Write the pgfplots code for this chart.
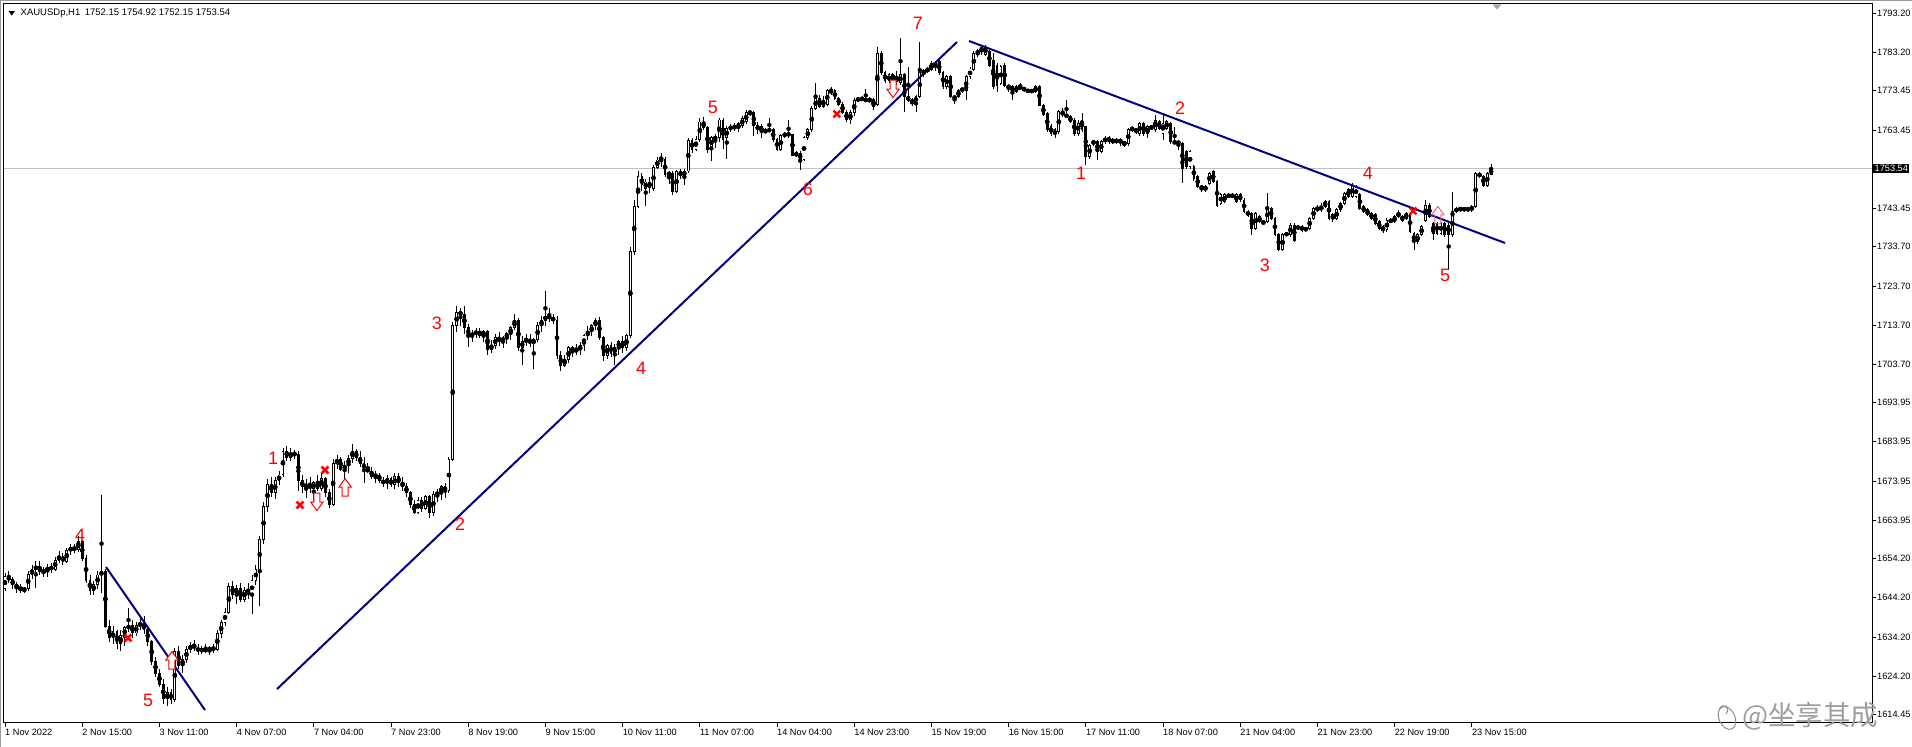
\documentclass[border=0pt]{standalone}
\usepackage{pgfplots}
\pgfplotsset{compat=1.18}
\usepackage{pgfplotstable}
\usepackage{fontspec}
\setmainfont{Liberation Sans}
\newfontfamily\cjk{Noto Sans CJK SC}

\definecolor{trend}{RGB}{0,0,128}
\definecolor{sigred}{RGB}{255,0,0}
\definecolor{sigpink}{RGB}{236,96,140}
\definecolor{bidline}{RGB}{192,192,192}

% hollow block arrows used for the entry signals
\pgfdeclareplotmark{arrowup}{%
  \pgfpathmoveto{\pgfqpoint{-3pt}{-9pt}}%
  \pgfpathlineto{\pgfqpoint{-3pt}{0pt}}%
  \pgfpathlineto{\pgfqpoint{-6.2pt}{0pt}}%
  \pgfpathlineto{\pgfqpoint{0pt}{8.5pt}}%
  \pgfpathlineto{\pgfqpoint{6.2pt}{0pt}}%
  \pgfpathlineto{\pgfqpoint{3pt}{0pt}}%
  \pgfpathlineto{\pgfqpoint{3pt}{-9pt}}%
  \pgfpathclose
  \pgfusepathqfillstroke}
\pgfdeclareplotmark{arrowdown}{%
  \pgfpathmoveto{\pgfqpoint{-3pt}{9pt}}%
  \pgfpathlineto{\pgfqpoint{-3pt}{0pt}}%
  \pgfpathlineto{\pgfqpoint{-6.2pt}{0pt}}%
  \pgfpathlineto{\pgfqpoint{0pt}{-8.5pt}}%
  \pgfpathlineto{\pgfqpoint{6.2pt}{0pt}}%
  \pgfpathlineto{\pgfqpoint{3pt}{0pt}}%
  \pgfpathlineto{\pgfqpoint{3pt}{9pt}}%
  \pgfpathclose
  \pgfusepathqfillstroke}
\pgfdeclareplotmark{arrowupline}{%
  \pgfpathmoveto{\pgfqpoint{-3pt}{-9pt}}%
  \pgfpathlineto{\pgfqpoint{-3pt}{0pt}}%
  \pgfpathlineto{\pgfqpoint{-6.2pt}{0pt}}%
  \pgfpathlineto{\pgfqpoint{0pt}{8.5pt}}%
  \pgfpathlineto{\pgfqpoint{6.2pt}{0pt}}%
  \pgfpathlineto{\pgfqpoint{3pt}{0pt}}%
  \pgfpathlineto{\pgfqpoint{3pt}{-9pt}}%
  \pgfpathclose
  \pgfusepathqstroke}

% XAUUSD, H1 bars: index, open, high, low, close
\pgfplotstableread{
i o h l c
0 1646.5 1650.5 1645.8 1649.5
1 1649.5 1651.0 1648.0 1648.8
2 1648.8 1649.5 1646.5 1647.5
3 1647.5 1648.2 1645.5 1646.8
4 1646.8 1647.8 1645.4 1646.2
5 1646.2 1647.0 1645.3 1646.5
6 1646.5 1651.0 1646.0 1650.2
7 1650.2 1652.5 1649.0 1651.5
8 1651.5 1653.5 1646.8 1652.2
9 1652.2 1653.5 1650.0 1650.8
10 1650.8 1652.0 1649.5 1651.0
11 1651.0 1652.8 1649.5 1652.0
12 1652.0 1653.0 1650.5 1651.5
13 1651.5 1654.5 1651.0 1653.8
14 1653.8 1656.0 1653.0 1654.8
15 1654.8 1655.5 1652.5 1653.5
16 1653.5 1657.0 1653.0 1656.2
17 1656.2 1658.0 1655.0 1657.0
18 1657.0 1658.0 1655.5 1656.5
19 1656.5 1660.0 1655.8 1658.5
20 1658.5 1659.0 1653.5 1654.2
21 1654.2 1655.0 1648.0 1648.5
22 1648.5 1650.0 1645.0 1646.0
23 1646.0 1648.5 1644.8 1647.5
24 1647.5 1651.0 1646.5 1650.0
25 1650.0 1670.5 1645.5 1650.8
26 1650.8 1651.5 1636.5 1636.8
27 1636.8 1638.5 1633.0 1634.0
28 1634.0 1637.0 1632.5 1635.5
29 1635.5 1636.0 1631.0 1632.5
30 1632.5 1636.0 1630.5 1634.5
31 1634.5 1637.0 1632.0 1636.5
32 1636.5 1641.5 1635.5 1637.0
33 1637.0 1638.5 1634.0 1635.2
34 1635.2 1638.0 1634.5 1637.2
35 1637.2 1639.0 1636.0 1637.5
36 1637.5 1639.5 1635.0 1636.0
37 1636.0 1637.0 1632.0 1633.0
38 1633.0 1633.5 1627.0 1628.0
39 1628.0 1629.0 1624.0 1625.0
40 1625.0 1626.0 1621.5 1622.0
41 1622.0 1623.5 1617.0 1618.5
42 1618.5 1621.5 1616.5 1620.0
43 1620.0 1621.0 1617.0 1618.2
44 1618.2 1631.5 1617.5 1630.5
45 1630.5 1632.0 1626.0 1627.0
46 1627.0 1629.5 1625.0 1628.5
47 1628.5 1632.0 1627.5 1631.0
48 1631.0 1633.0 1630.0 1632.0
49 1632.0 1633.5 1630.5 1631.5
50 1631.5 1632.5 1629.5 1630.5
51 1630.5 1632.0 1629.8 1631.2
52 1631.2 1632.5 1630.0 1630.5
53 1630.5 1632.0 1629.5 1631.5
54 1631.5 1632.5 1630.0 1631.0
55 1631.0 1636.0 1630.5 1635.0
56 1635.0 1638.5 1634.0 1637.8
57 1637.8 1641.5 1637.0 1640.5
58 1640.5 1648.0 1640.0 1647.0
59 1647.0 1648.5 1644.0 1645.0
60 1645.0 1647.5 1642.5 1646.5
61 1646.5 1648.0 1643.0 1643.8
62 1643.8 1647.0 1643.0 1646.0
63 1646.0 1648.0 1644.0 1645.0
64 1645.0 1650.0 1640.0 1648.5
65 1648.5 1652.5 1647.5 1651.5
66 1651.5 1660.0 1642.0 1659.0
67 1659.0 1668.5 1658.0 1667.5
68 1667.5 1674.5 1666.0 1673.0
69 1673.0 1675.0 1670.0 1671.0
70 1671.0 1675.0 1669.5 1674.0
71 1674.0 1676.5 1673.0 1675.5
72 1675.5 1682.5 1675.0 1681.5
73 1681.5 1683.0 1679.0 1680.0
74 1680.0 1682.5 1679.0 1681.0
75 1681.0 1682.0 1679.5 1680.8
76 1680.8 1681.5 1671.5 1674.0
77 1674.0 1675.5 1671.0 1672.5
78 1672.5 1674.5 1669.5 1673.0
79 1673.0 1675.0 1671.0 1672.0
80 1672.0 1674.0 1668.5 1673.5
81 1673.5 1675.5 1671.5 1672.0
82 1672.0 1676.0 1671.5 1674.5
83 1674.5 1675.0 1670.0 1671.0
84 1671.0 1672.0 1667.0 1668.0
85 1668.0 1679.5 1667.5 1678.5
86 1678.5 1680.5 1677.0 1679.5
87 1679.5 1680.0 1676.5 1677.0
88 1677.0 1679.0 1674.5 1678.0
89 1678.0 1680.5 1676.0 1679.8
90 1679.8 1683.5 1678.5 1681.5
91 1681.5 1682.0 1679.0 1680.0
92 1680.0 1681.5 1677.5 1678.5
93 1678.5 1680.0 1673.5 1677.0
94 1677.0 1678.5 1676.0 1676.5
95 1676.5 1677.5 1674.5 1675.2
96 1675.2 1676.5 1673.5 1675.5
97 1675.5 1676.0 1673.5 1674.0
98 1674.0 1675.0 1672.5 1673.5
99 1673.5 1675.5 1672.0 1674.5
100 1674.5 1675.0 1672.5 1673.0
101 1673.0 1676.0 1672.0 1675.0
102 1675.0 1676.0 1672.5 1673.5
103 1673.5 1675.0 1671.5 1672.5
104 1672.5 1673.5 1670.0 1671.0
105 1671.0 1671.5 1667.0 1668.0
106 1668.0 1669.0 1665.5 1666.0
107 1666.0 1670.0 1665.5 1669.0
108 1669.0 1670.0 1666.0 1667.0
109 1667.0 1670.5 1666.5 1670.0
110 1670.0 1670.5 1664.5 1666.0
111 1666.0 1671.5 1665.0 1670.5
112 1670.5 1672.0 1668.5 1671.0
113 1671.0 1673.0 1669.0 1672.5
114 1672.5 1673.5 1669.5 1671.5
115 1671.5 1680.0 1671.0 1679.5
116 1679.5 1714.5 1679.0 1713.5
117 1713.5 1718.5 1712.0 1717.0
118 1717.0 1718.0 1713.5 1716.5
119 1716.5 1718.5 1711.5 1713.0
120 1713.0 1714.0 1708.0 1711.0
121 1711.0 1712.5 1709.5 1711.5
122 1711.5 1713.0 1710.5 1712.0
123 1712.0 1713.0 1710.5 1711.0
124 1711.0 1712.5 1709.5 1712.0
125 1712.0 1712.5 1706.0 1707.5
126 1707.5 1710.0 1706.5 1708.5
127 1708.5 1711.5 1707.5 1710.5
128 1710.5 1712.0 1708.5 1709.5
129 1709.5 1711.0 1708.0 1710.5
130 1710.5 1712.0 1709.0 1711.5
131 1711.5 1713.5 1710.0 1713.0
132 1713.0 1716.5 1712.5 1715.0
133 1715.0 1715.5 1707.0 1708.0
134 1708.0 1711.0 1703.5 1709.5
135 1709.5 1711.5 1708.5 1710.0
136 1710.0 1711.5 1708.0 1709.0
137 1709.0 1710.5 1702.5 1710.0
138 1710.0 1714.5 1709.5 1713.5
139 1713.5 1716.0 1712.0 1715.0
140 1715.0 1722.5 1713.5 1716.0
141 1716.0 1718.0 1714.5 1715.5
142 1715.5 1716.5 1714.0 1715.0
143 1715.0 1716.0 1705.0 1706.0
144 1706.0 1707.0 1702.0 1703.5
145 1703.5 1706.0 1703.0 1705.0
146 1705.0 1708.5 1704.0 1708.0
147 1708.0 1708.5 1705.5 1707.0
148 1707.0 1709.0 1706.0 1707.5
149 1707.5 1709.5 1706.0 1708.5
150 1708.5 1711.5 1707.0 1711.0
151 1711.0 1713.5 1710.0 1712.0
152 1712.0 1714.0 1711.0 1713.5
153 1713.5 1715.5 1712.5 1715.0
154 1715.0 1715.8 1710.0 1710.5
155 1710.5 1711.0 1704.5 1706.0
156 1706.0 1709.0 1705.0 1708.5
157 1708.5 1709.5 1705.5 1706.5
158 1706.5 1709.0 1703.5 1708.0
159 1708.0 1710.0 1706.0 1709.5
160 1709.5 1711.0 1706.5 1708.0
161 1708.0 1711.5 1707.0 1711.0
162 1711.0 1733.5 1710.5 1732.5
163 1732.5 1745.5 1731.5 1744.0
164 1744.0 1753.0 1743.5 1751.5
165 1751.5 1752.5 1748.0 1749.5
166 1748.5 1751.0 1744.0 1750.2
167 1750.2 1751.5 1747.5 1748.8
168 1748.5 1754.5 1748.0 1754.0
169 1754.0 1756.5 1753.5 1755.8
170 1755.8 1757.5 1754.0 1756.5
171 1756.0 1756.5 1751.5 1752.0
172 1752.0 1753.0 1749.8 1752.5
173 1752.5 1753.0 1747.0 1747.8
174 1747.8 1753.3 1747.3 1752.8
175 1752.8 1753.5 1751.0 1751.8
176 1751.8 1753.5 1749.5 1753.0
177 1753.0 1761.5 1752.5 1760.8
178 1760.8 1761.5 1757.5 1758.5
179 1758.5 1762.0 1758.0 1761.0
180 1761.0 1766.5 1760.5 1765.5
181 1765.5 1766.8 1763.5 1764.0
182 1764.0 1764.5 1757.5 1758.5
183 1759.0 1762.0 1755.5 1761.5
184 1761.0 1762.5 1759.0 1761.8
185 1761.5 1766.5 1760.5 1766.0
186 1766.0 1766.5 1758.5 1761.0
187 1761.5 1764.5 1756.0 1763.8
188 1763.8 1765.0 1763.0 1764.3
189 1764.3 1765.2 1763.2 1764.0
190 1764.0 1765.5 1763.0 1765.0
191 1764.5 1767.0 1764.0 1766.5
192 1765.5 1768.5 1765.0 1767.8
193 1767.8 1768.5 1767.0 1768.0
194 1768.0 1768.3 1762.0 1764.5
195 1764.5 1765.5 1762.5 1763.5
196 1764.3 1765.0 1761.5 1763.0
197 1763.0 1764.0 1762.5 1763.3
198 1763.3 1766.5 1763.0 1763.5
199 1763.5 1764.0 1760.5 1761.0
200 1761.0 1761.5 1758.0 1758.5
201 1758.5 1762.5 1758.0 1762.0
202 1762.0 1763.0 1761.5 1762.5
203 1762.5 1766.0 1761.5 1762.2
204 1762.2 1762.5 1756.8 1757.0
205 1757.0 1758.0 1756.5 1757.5
206 1757.5 1758.0 1753.3 1756.0
207 1756.0 1762.0 1755.5 1761.5
208 1761.5 1764.0 1761.0 1763.5
209 1763.5 1769.5 1763.0 1769.0
210 1769.0 1775.5 1768.5 1771.5
211 1771.5 1772.5 1769.0 1769.5
212 1769.5 1772.0 1769.0 1771.0
213 1770.0 1774.0 1769.5 1773.5
214 1773.5 1774.5 1772.5 1773.0
215 1773.5 1774.0 1771.0 1771.5
216 1771.5 1772.0 1769.5 1770.0
217 1770.0 1770.5 1767.5 1768.0
218 1768.0 1768.5 1765.5 1766.0
219 1766.0 1768.5 1765.0 1768.0
220 1768.0 1771.5 1767.0 1771.0
221 1771.0 1772.0 1770.5 1771.5
222 1771.5 1772.0 1770.8 1771.2
223 1771.2 1774.0 1770.5 1771.0
224 1771.0 1771.8 1770.3 1771.3
225 1771.3 1771.5 1768.5 1769.5
226 1770.0 1784.5 1769.5 1783.0
227 1783.0 1783.5 1777.5 1778.0
228 1778.0 1778.5 1775.5 1776.0
229 1776.0 1778.0 1775.5 1777.5
230 1777.5 1778.0 1775.0 1776.5
231 1776.5 1778.5 1775.0 1776.0
232 1775.5 1787.0 1775.0 1777.5
233 1777.5 1778.0 1768.0 1772.0
234 1772.0 1779.5 1770.5 1771.0
235 1771.0 1771.5 1769.5 1770.5
236 1770.5 1772.5 1768.0 1772.0
237 1772.0 1786.0 1771.5 1778.0
238 1778.0 1779.0 1777.0 1778.5
239 1778.5 1779.5 1778.0 1779.0
240 1778.8 1781.0 1778.5 1780.5
241 1780.5 1781.0 1778.5 1780.0
242 1781.0 1781.5 1777.5 1778.0
243 1778.0 1778.5 1774.0 1774.5
244 1774.5 1777.5 1774.0 1777.0
245 1777.0 1777.5 1771.5 1772.0
246 1772.0 1772.5 1770.0 1771.5
247 1772.0 1774.0 1771.5 1773.5
248 1773.5 1774.5 1773.0 1774.0
249 1773.5 1777.5 1771.0 1777.0
250 1777.0 1779.5 1776.5 1779.0
251 1779.0 1783.5 1778.5 1783.0
252 1783.0 1784.0 1782.0 1783.5
253 1783.5 1785.0 1782.5 1784.5
254 1782.8 1785.2 1782.3 1784.6
255 1783.4 1784.0 1779.5 1780.0
256 1781.3 1783.0 1774.0 1774.5
257 1780.0 1780.5 1773.2 1774.9
258 1775.4 1780.0 1775.0 1779.6
259 1780.0 1780.5 1774.5 1774.9
260 1774.9 1775.2 1773.2 1774.1
261 1774.5 1774.9 1771.1 1773.2
262 1773.2 1775.0 1772.8 1774.5
263 1774.5 1775.5 1773.8 1774.1
264 1774.1 1774.5 1773.2 1773.7
265 1773.7 1774.0 1772.8 1773.2
266 1773.2 1774.0 1772.8 1773.6
267 1773.2 1775.0 1772.8 1774.5
268 1774.5 1775.0 1769.5 1769.8
269 1769.8 1770.0 1767.0 1767.3
270 1767.7 1768.0 1763.0 1763.5
271 1764.3 1765.0 1762.0 1762.6
272 1763.5 1764.0 1761.5 1762.2
273 1763.0 1768.5 1762.5 1768.1
274 1768.1 1769.0 1766.8 1767.3
275 1767.3 1771.1 1766.5 1766.9
276 1766.9 1767.3 1765.2 1765.6
277 1766.0 1766.5 1762.0 1762.6
278 1762.6 1766.0 1762.0 1765.2
279 1766.0 1767.7 1763.0 1763.5
280 1764.3 1764.5 1754.5 1756.7
281 1756.7 1760.0 1756.0 1759.6
282 1760.5 1761.0 1759.5 1760.1
283 1760.5 1761.0 1755.8 1757.9
284 1757.9 1761.0 1757.5 1760.5
285 1760.5 1762.0 1760.0 1761.3
286 1761.3 1761.8 1760.0 1760.9
287 1760.9 1761.3 1759.8 1760.5
288 1760.5 1761.3 1760.0 1760.9
289 1760.9 1761.5 1759.5 1760.3
290 1760.3 1760.5 1759.2 1759.9
291 1760.1 1764.0 1759.5 1763.5
292 1763.5 1764.5 1763.0 1763.9
293 1763.5 1764.0 1762.5 1763.2
294 1762.6 1765.6 1762.0 1765.2
295 1765.2 1765.5 1762.0 1762.6
296 1762.6 1764.8 1761.5 1764.3
297 1764.3 1764.6 1763.5 1764.0
298 1763.5 1767.3 1763.0 1766.0
299 1765.6 1766.0 1763.5 1763.9
300 1762.6 1767.7 1760.9 1765.2
301 1763.9 1766.0 1763.5 1765.6
302 1765.2 1765.6 1760.0 1760.5
303 1760.5 1764.3 1759.6 1760.1
304 1760.5 1761.0 1758.4 1760.0
305 1760.1 1760.5 1749.9 1753.7
306 1757.9 1758.4 1753.5 1754.1
307 1754.1 1758.4 1753.5 1757.9
308 1754.1 1754.5 1750.5 1751.1
309 1751.6 1752.0 1748.6 1749.0
310 1749.0 1749.4 1747.7 1748.6
311 1749.0 1749.4 1747.7 1748.2
312 1749.9 1752.8 1749.5 1752.4
313 1752.8 1753.3 1749.9 1750.3
314 1750.3 1750.7 1743.9 1744.3
315 1744.8 1747.3 1744.3 1746.9
316 1745.2 1747.3 1744.8 1746.9
317 1746.9 1747.3 1746.0 1746.5
318 1746.5 1747.3 1746.0 1746.9
319 1745.2 1747.3 1744.8 1746.9
320 1746.9 1747.3 1745.2 1745.6
321 1745.6 1746.0 1742.2 1742.6
322 1742.6 1743.0 1741.4 1741.8
323 1742.2 1742.6 1736.7 1738.4
324 1738.4 1742.6 1738.0 1742.2
325 1741.4 1741.8 1739.7 1740.1
326 1740.1 1740.5 1739.2 1739.7
327 1740.1 1747.3 1739.7 1743.5
328 1743.5 1743.9 1740.5 1740.9
329 1740.9 1741.3 1736.3 1736.7
330 1736.7 1737.1 1732.5 1732.9
331 1732.9 1737.1 1732.5 1736.7
332 1736.7 1737.5 1736.3 1737.1
333 1736.7 1739.7 1736.3 1739.2
334 1739.2 1739.7 1735.0 1735.4
335 1738.8 1739.2 1738.0 1738.4
336 1738.8 1739.2 1737.5 1738.0
337 1738.0 1738.8 1737.5 1738.4
338 1738.4 1741.3 1738.0 1740.9
339 1740.9 1743.9 1740.5 1743.5
340 1743.5 1744.3 1742.6 1743.1
341 1743.1 1744.8 1742.6 1743.9
342 1743.9 1745.6 1743.5 1745.2
343 1745.2 1745.6 1740.5 1740.9
344 1741.8 1742.2 1740.1 1740.9
345 1740.9 1743.5 1740.5 1743.1
346 1743.1 1745.2 1742.6 1744.8
347 1744.8 1747.7 1744.3 1747.3
348 1748.2 1748.6 1746.0 1746.5
349 1746.5 1749.9 1746.0 1749.4
350 1746.5 1749.4 1746.0 1749.0
351 1746.9 1747.3 1743.1 1743.5
352 1743.9 1744.3 1742.2 1742.6
353 1743.1 1743.5 1741.4 1741.8
354 1742.2 1742.6 1740.5 1740.9
355 1741.8 1742.2 1739.2 1739.7
356 1740.1 1740.5 1738.0 1738.4
357 1738.8 1739.2 1737.1 1738.0
358 1738.0 1740.9 1737.5 1740.5
359 1740.5 1740.9 1739.7 1740.1
360 1740.1 1741.8 1739.7 1741.4
361 1741.4 1743.1 1741.0 1742.2
362 1741.4 1741.8 1740.1 1740.5
363 1740.9 1742.6 1740.5 1742.2
364 1742.2 1742.6 1737.1 1737.5
365 1737.1 1737.5 1732.9 1735.0
366 1735.0 1737.1 1734.5 1736.7
367 1736.7 1739.2 1736.3 1738.8
368 1740.5 1745.6 1740.1 1744.3
369 1744.3 1744.8 1741.0 1741.4
370 1739.7 1740.1 1735.4 1737.1
371 1739.7 1740.1 1736.7 1737.1
372 1737.1 1740.1 1736.7 1739.7
373 1739.7 1740.1 1736.3 1736.7
374 1739.2 1739.7 1727.8 1736.7
375 1736.7 1747.7 1736.3 1742.6
376 1742.6 1743.9 1742.2 1743.5
377 1743.5 1743.9 1742.6 1743.1
378 1743.1 1743.9 1742.6 1743.5
379 1743.5 1743.9 1742.6 1743.0
380 1743.1 1744.3 1742.6 1743.9
381 1743.9 1752.8 1743.5 1752.4
382 1752.4 1752.8 1751.1 1751.6
383 1751.6 1752.0 1749.0 1749.4
384 1749.4 1752.8 1749.0 1752.4
385 1752.15 1754.92 1752.15 1753.54
}\candles

\begin{document}
\begin{tikzpicture}
\begin{axis}[
  name=plotarea,
  scale only axis, width=1868.5pt, height=719pt,
  xmin=-0.39, xmax=483.68, ymin=1612.26, ymax=1795.58,
  clip=false,
  axis line style={black, line width=1pt},
  xtick={0,20,...,380},
  xticklabels={1 Nov 2022,2 Nov 15:00,3 Nov 11:00,4 Nov 07:00,7 Nov 04:00,
    7 Nov 23:00,8 Nov 19:00,9 Nov 15:00,10 Nov 11:00,11 Nov 07:00,
    14 Nov 04:00,14 Nov 23:00,15 Nov 19:00,16 Nov 15:00,17 Nov 11:00,
    18 Nov 07:00,21 Nov 04:00,21 Nov 23:00,22 Nov 19:00,23 Nov 15:00},
  ytick={1614.45,1624.20,1634.20,1644.20,1654.20,1663.95,1673.95,1683.95,
    1693.95,1703.70,1713.70,1723.70,1733.70,1743.45,1763.45,1773.45,
    1783.20,1793.20},
  yticklabels={1614.45,1624.20,1634.20,1644.20,1654.20,1663.95,1673.95,
    1683.95,1693.95,1703.70,1713.70,1723.70,1733.70,1743.45,1763.45,
    1773.45,1783.20,1793.20},
  xtick pos=left, ytick pos=right, yticklabel pos=right,
  tick align=outside, major tick length=4pt,
  tick style={black, line width=0.8pt},
  xticklabel style={anchor=north west, inner sep=0pt, yshift=-2pt,
    font=\fontsize{9.2}{10}\selectfont},
  yticklabel style={anchor=west, inner sep=0pt, xshift=1pt,
    font=\fontsize{9.2}{10}\selectfont},
]
% bid price line
\addplot[bidline, line width=1pt] coordinates {(-0.39,1753.54) (483.68,1753.54)};

% wicks
\addplot[only marks, mark=none,
  error bars/y dir=both, error bars/y explicit, error bars/error mark=none,
  error bars/error bar style={black, line width=0.85pt}]
  table[x=i, y expr={(\thisrow{h}+\thisrow{l})/2},
        y error expr={(\thisrow{h}-\thisrow{l})/2}] {\candles};
% bodies (black outline / filled)
\addplot[only marks, mark=none,
  error bars/y dir=both, error bars/y explicit, error bars/error mark=none,
  error bars/error bar style={black, line width=2.8pt}]
  table[x=i, y expr={(\thisrow{o}+\thisrow{c})/2},
        y error expr={abs(\thisrow{c}-\thisrow{o})/2+0.12}] {\candles};
% hollow interior of rising bars
\addplot[only marks, mark=none,
  error bars/y dir=both, error bars/y explicit, error bars/error mark=none,
  error bars/error bar style={white, line width=1.1pt}]
  table[x=i, y expr={(\thisrow{o}+\thisrow{c})/2},
        y error expr={max((\thisrow{c}-\thisrow{o})/2-0.12,0)}] {\candles};

% trend lines
\addplot[trend, line width=2pt] coordinates {(26.17,1652.03) (51.81,1615.57)};
\addplot[trend, line width=2pt] coordinates {(70.47,1620.92) (246.63,1785.89)};
\addplot[trend, line width=2pt] coordinates {(249.74,1786.15) (388.6,1734.64)};

% signal marks
\addplot[only marks, mark=x, mark size=4.8pt,
  mark options={draw=sigred, line width=2.6pt}]
  coordinates {(31.87,1633.93) (76.42,1667.84) (82.9,1676.77) (215.5,1767.53) (364.8,1742.8)};
\addplot[only marks, mark=arrowup,
  mark options={draw=sigred, fill=white, line width=1pt}]
  coordinates {(43.26,1628.3) (88.1,1672.4)};
\addplot[only marks, mark=arrowdown,
  mark options={draw=sigred, fill=white, line width=1pt}]
  coordinates {(80.8,1668.6) (230.05,1773.9)};
\addplot[only marks, mark=arrowupline,
  mark options={draw=sigpink, line width=1pt}]
  coordinates {(371.2,1741.8)};

% wave counts
\begin{scope}[every node/.style={text=sigred, inner sep=0pt,
    font=\fontsize{18}{18}\selectfont}]
\node at (axis cs:19.43,1660.2) {4};
\node at (axis cs:37.05,1618.1) {5};
\node at (axis cs:69.43,1679.8) {1};
\node at (axis cs:117.9,1663.0) {2};
\node at (axis cs:111.9,1714.2) {3};
\node at (axis cs:164.8,1702.8) {4};
\node at (axis cs:183.4,1769.1) {5};
\node at (axis cs:208.0,1748.4) {6};
\node at (axis cs:236.5,1790.7) {7};
\node at (axis cs:278.8,1752.5) {1};
\node at (axis cs:304.4,1769.1) {2};
\node at (axis cs:326.4,1729.0) {3};
\node at (axis cs:353.1,1752.5) {4};
\node at (axis cs:373.1,1726.5) {5};
\end{scope}
\end{axis}

% pixel frame: origin at the top-left corner of the window
\begin{scope}[shift={(plotarea.north west)}, x=1pt, y=-1pt, shift={(-3.5,-4)}]
  % window border
  \fill[black!40] (0,0) rectangle (1912,1.2);
  \fill[black!40] (0,0) rectangle (1.2,747);
  % symbol header
  \fill (8.6,11.2) -- (14.8,11.2) -- (11.7,15.6) -- cycle;
  \node[anchor=west, inner sep=0pt, font=\fontsize{9.5}{10}\selectfont]
    at (20.5,13.6) {XAUUSDp,H1\hspace{4.5pt}1752.15 1754.92 1752.15 1753.54};
  % chart shift marker
  \fill[black!35] (1492.5,4.5) -- (1501.5,4.5) -- (1497,9.5) -- cycle;
  % current price tag
  \node[anchor=west, fill=black, text=white, inner xsep=1.5pt, inner ysep=1.6pt,
    font=\fontsize{9.2}{10}\selectfont] at (1873,168.5) {1753.54};
  % watermark
  \node[anchor=west, inner sep=0pt, text=black!38,
    font=\cjk\fontsize{27.5}{27.5}\selectfont] at (1742,716) {@坐享其成};
  \draw[black!45, line width=1pt, rotate around={25:(1727,718)}]
    (1727,718) ellipse (8 and 12);
  \draw[black!45, line width=1pt] (1719,709) .. controls (1724,702) and (1731,707) .. (1726,714);
  \pgfresetboundingbox
  \path (0,0) rectangle (1912,747);
\end{scope}
\end{tikzpicture}
\end{document}
